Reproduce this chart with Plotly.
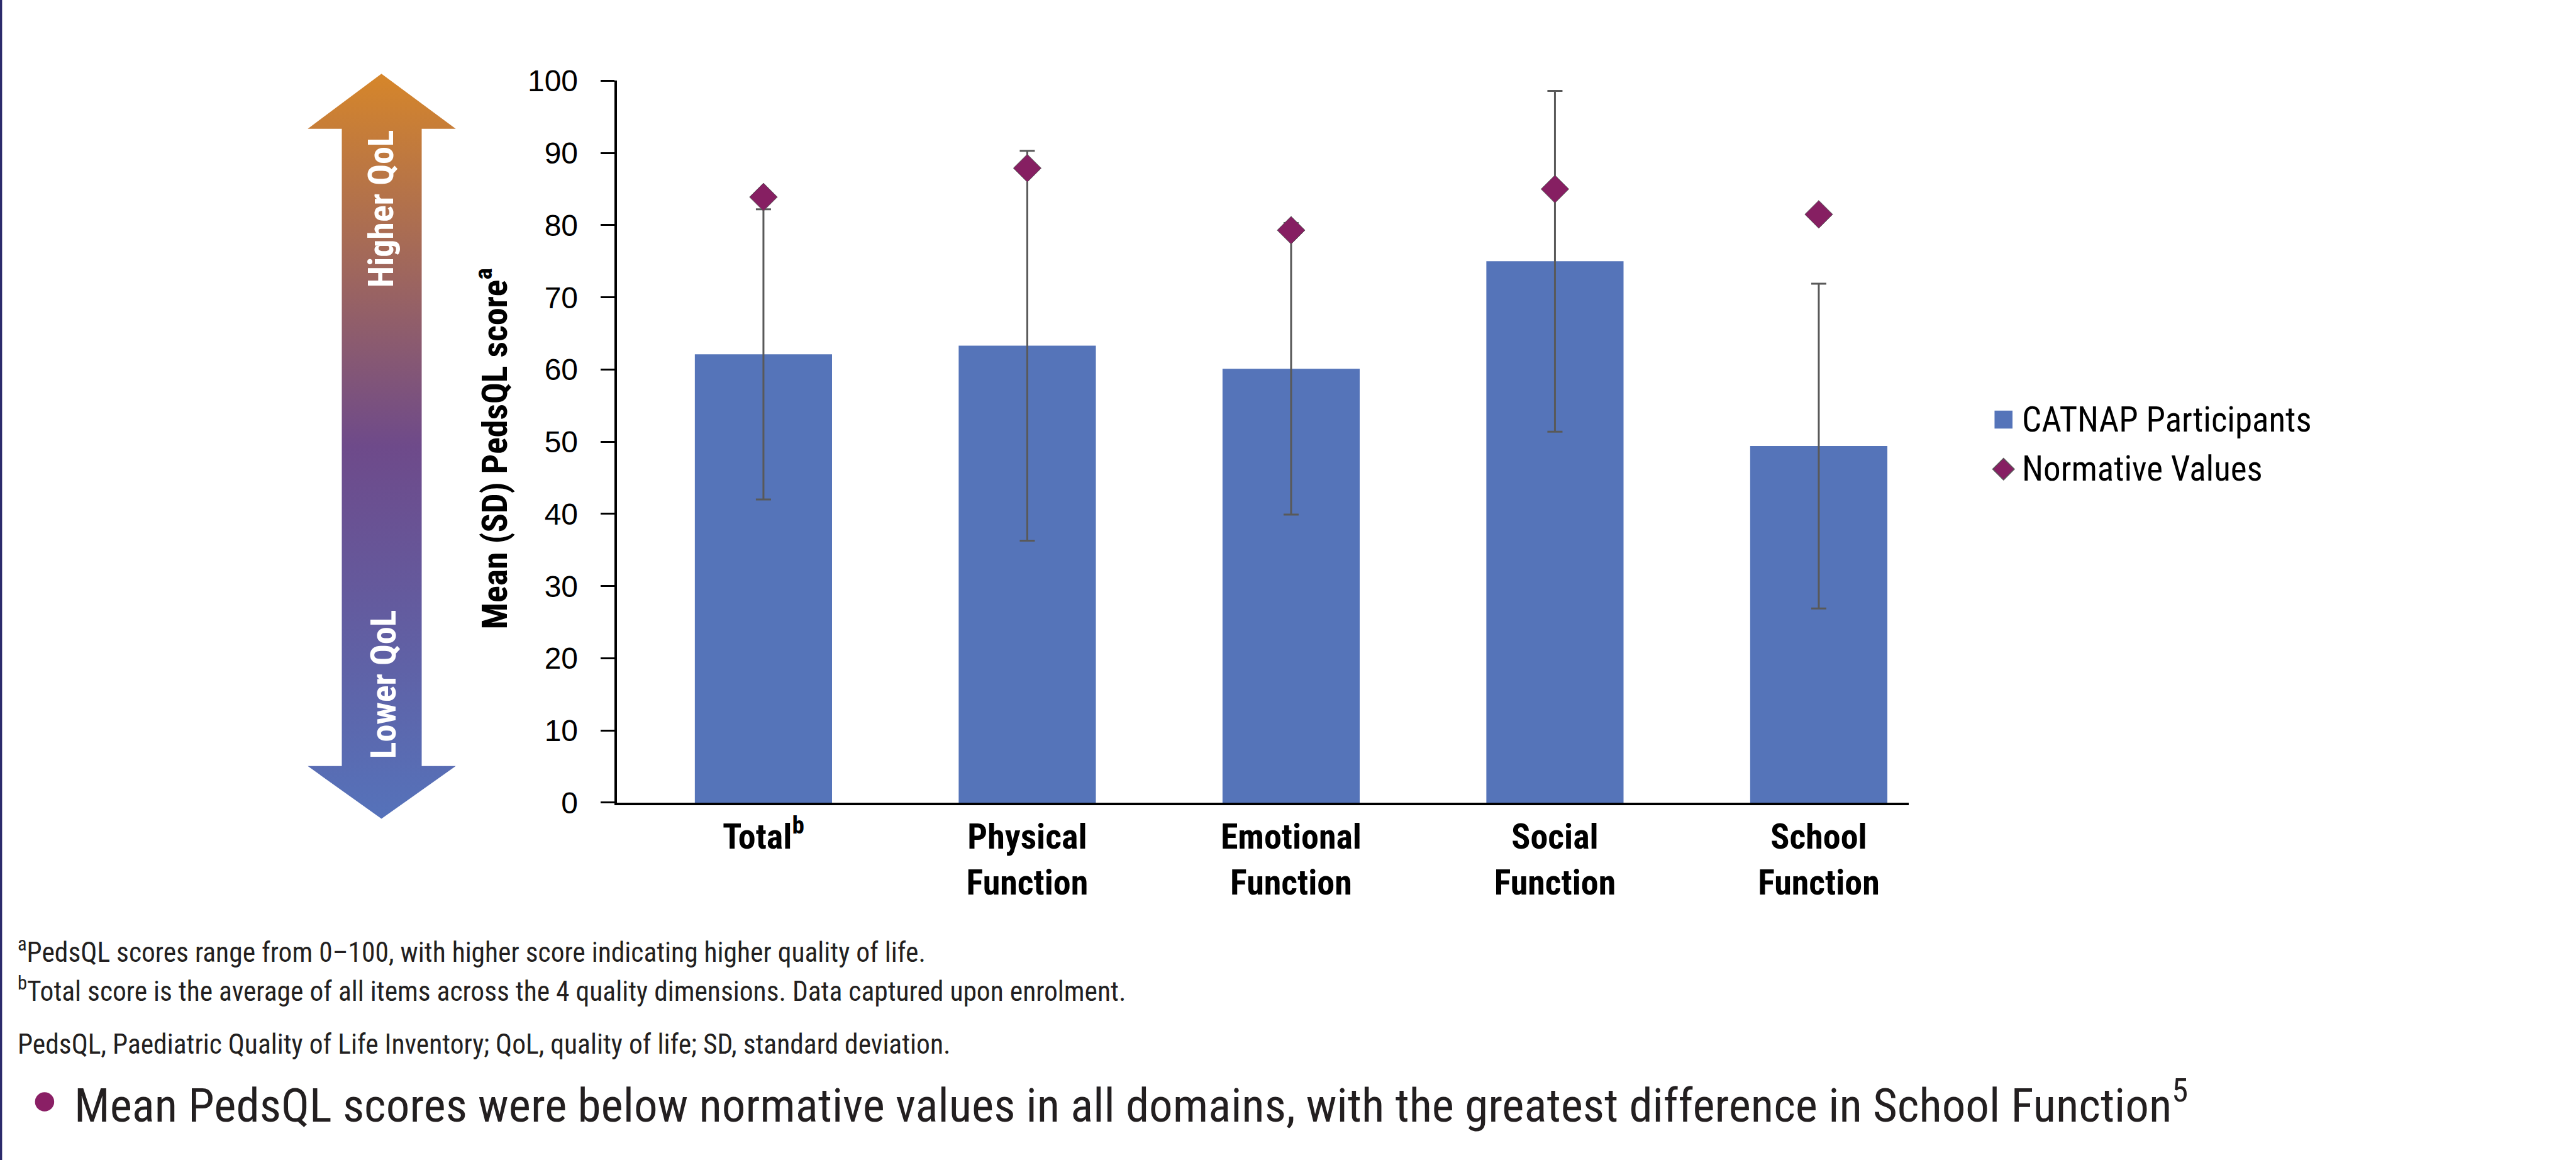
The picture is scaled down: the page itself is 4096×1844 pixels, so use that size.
import plotly.graph_objects as go

# ---------------- data ----------------
categories = ["Total<sup>b</sup>", "Physical<br>Function", "Emotional<br>Function",
              "Social<br>Function", "School<br>Function"]
catnap_mean = [62.1, 63.3, 60.1, 75.0, 49.4]
catnap_sd = [20.1, 27.0, 20.2, 23.6, 22.5]
normative = [83.9, 87.9, 79.3, 85.0, 81.5]
y_tick_values = [0, 10, 20, 30, 40, 50, 60, 70, 80, 90, 100]
y_tick_labels = ["0", "10", "20", "30", "40", "50", "60", "70", "80", "90", "100"]
series_names = ["CATNAP Participants", "Normative Values"]
footnotes = [
    "<sup>a</sup>PedsQL scores range from 0\u2013100, with higher score indicating higher quality of life.",
    "<sup>b</sup>Total score is the average of all items across the 4 quality dimensions. Data captured upon enrolment.",
    "PedsQL, Paediatric Quality of Life Inventory; QoL, quality of life; SD, standard deviation.",
]
key_message = "Mean PedsQL scores were below normative values in all domains, with the greatest difference in School Function<sup>5</sup>"

# ---------------- geometry helpers (reference px -> paper) ----------------
REF_W, REF_H = 4160.0, 1873.0


def px(x):
    return x / REF_W


def py(y):
    return 1.0 - y / REF_H


NARROW = "Liberation Sans Narrow, Arial Narrow, Roboto Condensed, DejaVu Sans Condensed, sans-serif"
REG = "Liberation Sans, Arial, Helvetica, sans-serif"

BAR_COLOR = "#5574B9"
DIAMOND_COLOR = "#861F62"
ERR_COLOR = "#595959"

fig = go.Figure()

fig.add_trace(go.Bar(
    x=categories, y=catnap_mean, name=series_names[0],
    marker=dict(color=BAR_COLOR, line=dict(width=0)),
    width=0.52,
    error_y=dict(type="data", array=catnap_sd, visible=True, color=ERR_COLOR,
                 thickness=3, width=12),
    showlegend=False, hoverinfo="skip",
))
fig.add_trace(go.Scatter(
    x=categories, y=normative, name=series_names[1], mode="markers",
    marker=dict(symbol="diamond", size=34, color=DIAMOND_COLOR,
                line=dict(color=ERR_COLOR, width=1)),
    showlegend=False, hoverinfo="skip",
))

# gradient arrow on an overlay axis spanning the whole figure (ref px, y up)
arrow_x = [616, 736, 681, 681, 736, 616, 497, 552, 552, 497, 616]
arrow_y_top = [119, 208, 208, 1237, 1237, 1322, 1237, 1237, 208, 208, 119]
arrow_y = [REF_H - v for v in arrow_y_top]
fig.add_trace(go.Scatter(
    x=arrow_x, y=arrow_y, xaxis="x2", yaxis="y2", mode="lines",
    line=dict(width=0, color="rgba(0,0,0,0)"), fill="toself",
    fillgradient=dict(type="vertical", start=REF_H - 1322, stop=REF_H - 119,
                      colorscale=[[0, "#5572BA"], [0.5, "#6E4A8A"], [1, "#D6862A"]]),
    showlegend=False, hoverinfo="skip",
))

fig.update_layout(
    width=4096, height=1844, autosize=False,
    margin=dict(l=0, r=0, t=0, b=0, pad=0, autoexpand=False),
    paper_bgcolor="white", plot_bgcolor="rgba(0,0,0,0)",
    hovermode=False, showlegend=False,
    xaxis=dict(domain=[px(996), px(3082)], range=[-0.556, 4.34], automargin=False,
               showline=True, linecolor="black", linewidth=3.5,
               ticks="", showgrid=False, zeroline=False,
               tickfont=dict(family=NARROW, size=56, color="black", weight="bold"),
               ticklabelstandoff=2, fixedrange=True),
    yaxis=dict(domain=[py(1296), py(130.5)], range=[0, 100], automargin=False,
               tickmode="array", tickvals=y_tick_values, ticktext=y_tick_labels,
               showline=True, linecolor="black", linewidth=4,
               ticks="outside", ticklen=22, tickwidth=3, tickcolor="black",
               showgrid=False, zeroline=False,
               tickfont=dict(family=REG, size=48, color="black"),
               ticklabelstandoff=26, fixedrange=True),
    xaxis2=dict(domain=[0, 1], range=[0, REF_W], visible=False, fixedrange=True,
                anchor="y2", automargin=False),
    yaxis2=dict(domain=[0, 1], range=[0, REF_H], visible=False, fixedrange=True,
                anchor="x2", automargin=False),
)

ann = []
# y-axis title
ann.append(dict(text="<b>Mean (SD) PedsQL score<sup>a</sup></b>", xref="paper", yref="paper",
                x=px(795), y=py(725), xanchor="center", yanchor="middle", textangle=-90,
                showarrow=False, font=dict(family=NARROW, size=56, color="black")))
# arrow labels
ann.append(dict(text="<b>Higher QoL</b>", xref="paper", yref="paper",
                x=px(615), y=py(337), xanchor="center", yanchor="middle", textangle=-90,
                showarrow=False, font=dict(family=NARROW, size=56, color="white")))
ann.append(dict(text="<b>Lower QoL</b>", xref="paper", yref="paper",
                x=px(619), y=py(1105), xanchor="center", yanchor="middle", textangle=-90,
                showarrow=False, font=dict(family=NARROW, size=56, color="white")))
# legend text
ann.append(dict(text=series_names[0], xref="paper", yref="paper",
                x=px(3263), y=py(677), xanchor="left", yanchor="middle",
                showarrow=False, font=dict(family=NARROW, size=55, color="black")))
ann.append(dict(text=series_names[1], xref="paper", yref="paper",
                x=px(3263), y=py(757), xanchor="left", yanchor="middle",
                showarrow=False, font=dict(family=NARROW, size=55, color="black")))
# footnotes
for txt, yc in zip(footnotes, [1535, 1598, 1687]):
    ann.append(dict(text=txt, xref="paper", yref="paper", x=px(26), y=py(yc),
                    xanchor="left", yanchor="middle", showarrow=False,
                    font=dict(family=NARROW, size=43.5, color="#231F20")))
# key message
ann.append(dict(text=key_message, xref="paper", yref="paper", x=px(118), y=py(1779),
                xanchor="left", yanchor="middle", showarrow=False,
                font=dict(family=NARROW, size=75, color="#231F20")))
fig.update_layout(annotations=ann)

shapes = []
# left border
shapes.append(dict(type="line", xref="paper", yref="paper", x0=px(1.7), x1=px(1.7),
                   y0=0, y1=1, line=dict(color="#2B2A6B", width=3.4)))
# legend key: square
shapes.append(dict(type="rect", xref="paper", yref="paper", x0=px(3221), x1=px(3250),
                   y0=py(692), y1=py(663), fillcolor=BAR_COLOR, line=dict(width=0)))
# legend key: diamond
cx, cy, r = 3235.5, 757.5, 17.5
dpath = "M {},{} L {},{} L {},{} L {},{} Z".format(
    px(cx), py(cy - r), px(cx + r), py(cy), px(cx), py(cy + r), px(cx - r), py(cy))
shapes.append(dict(type="path", xref="paper", yref="paper", path=dpath,
                   fillcolor=DIAMOND_COLOR, line=dict(color=ERR_COLOR, width=1.5)))
# bullet
shapes.append(dict(type="circle", xref="paper", yref="paper", x0=px(56.5), x1=px(87.5),
                   y0=py(1794.5), y1=py(1763.5), fillcolor="#8A1F65", line=dict(width=0)))
fig.update_layout(shapes=shapes)

fig.write_html("out.html", config={"displayModeBar": False},
               post_script="document.body.style.margin='0';document.body.style.padding='0';")
